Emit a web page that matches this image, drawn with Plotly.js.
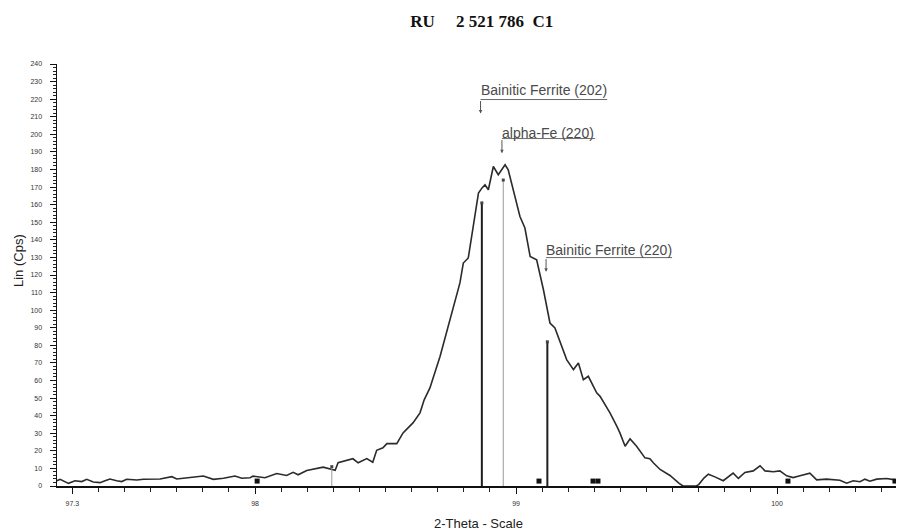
<!DOCTYPE html>
<html>
<head>
<meta charset="utf-8">
<script src="https://cdn.plot.ly/plotly-3.0.1.min.js"></script>
<style>
  html, body { margin: 0; padding: 0; background: #fff; }
  #chart { width: 897px; height: 531px; }
</style>
</head>
<body>
<div id="chart"></div>
<script>
// Diffraction scan, 2-theta (deg) against intensity (Cps)
const twoTheta = [
  97.241, 97.253, 97.285, 97.310, 97.336, 97.355, 97.380, 97.406, 97.425, 97.444,
  97.470, 97.489, 97.508, 97.547, 97.572, 97.636, 97.681, 97.700, 97.725, 97.802,
  97.840, 97.879, 97.923, 97.949, 97.981, 97.992, 98.038, 98.083, 98.121, 98.146,
  98.165, 98.198, 98.261, 98.287, 98.307, 98.318, 98.375, 98.395, 98.428, 98.451,
  98.466, 98.490, 98.505, 98.543, 98.567, 98.605, 98.632, 98.648, 98.670, 98.709,
  98.747, 98.785, 98.798, 98.817, 98.836, 98.856, 98.869, 98.881, 98.894, 98.913,
  98.932, 98.958, 98.970, 98.990, 99.015, 99.034, 99.054, 99.079, 99.105, 99.130,
  99.149, 99.194, 99.220, 99.239, 99.258, 99.277, 99.309, 99.322, 99.360, 99.386,
  99.398, 99.418, 99.437, 99.462, 99.494, 99.513, 99.526, 99.552, 99.590, 99.625,
  99.640, 99.690, 99.700, 99.720, 99.737, 99.762, 99.794, 99.832, 99.852, 99.877,
  99.909, 99.935, 99.954, 99.986, 100.011, 100.037, 100.062, 100.088, 100.126, 100.152,
  100.190, 100.241, 100.267, 100.292, 100.318, 100.337, 100.356, 100.382, 100.420, 100.452
];
const intensity = [
  3.0, 3.8, 1.5, 3.0, 2.5, 3.8, 2.3, 1.9, 3.0, 4.0,
  3.0, 2.5, 3.8, 3.4, 3.8, 4.0, 5.3, 4.0, 4.4, 5.7,
  3.8, 4.4, 5.7, 4.4, 4.7, 5.6, 4.7, 7.1, 6.0, 7.8,
  6.4, 8.8, 10.7, 9.8, 9.0, 13.2, 15.5, 13.2, 15.6, 13.5,
  20.3, 21.7, 24.1, 24.1, 30.2, 35.9, 41.6, 49.0, 55.8, 73.8,
  94.6, 115.5, 126.8, 129.7, 147.6, 166.6, 169.4, 171.3, 168.5, 181.7,
  177.0, 182.7, 179.8, 168.5, 153.3, 146.7, 130.6, 128.7, 111.6, 92.7,
  89.9, 71.9, 66.2, 70.0, 60.5, 62.4, 53.0, 51.0, 41.6, 34.0,
  30.2, 22.6, 26.8, 22.6, 16.0, 15.5, 13.2, 9.4, 6.0, 1.5,
  0.0, 0.0, 0.8, 4.5, 6.7, 5.2, 3.0, 7.3, 4.3, 7.7,
  8.6, 11.5, 8.6, 8.1, 8.6, 5.8, 4.8, 5.8, 7.3, 3.5,
  3.9, 3.3, 1.6, 3.0, 2.4, 3.9, 2.7, 3.9, 4.3, 3.5
];

// Reference pattern lines (position, intensity)
const refPos    = [98.294, 98.869, 98.951, 99.120];
const refHeight = [11, 161, 174, 82];
const refName   = ['', 'Bainitic Ferrite (202)', 'alpha-Fe (220)', 'Bainitic Ferrite (220)'];
// Weak reference lines, shown as small squares on the baseline
const weakPos    = [98.008, 99.088, 99.295, 99.314, 100.042, 100.452];
const weakHeight = [2.8, 2.8, 2.8, 2.8, 2.8, 2.8];

// Axis ticks
const xTickVals = [97.3, 98, 99, 100];
const xTickText = ['97.3', '98', '99', '100'];
const yTickVals = [];
for (let v = 0; v <= 240; v += 10) yTickVals.push(v);

function sticks(indices) {
  const xs = [], ys = [];
  indices.forEach(i => {
    xs.push(refPos[i], refPos[i], null);
    ys.push(0, refHeight[i], null);
  });
  return { xs, ys };
}

const dark = sticks([1, 3]);
const light = sticks([0, 2]);

const traces = [
  {
    x: twoTheta, y: intensity, type: 'scatter', mode: 'lines',
    line: { color: '#2b2b2b', width: 1.6 }, hoverinfo: 'x+y'
  },
  {
    x: light.xs, y: light.ys, type: 'scatter', mode: 'lines',
    line: { color: '#9a9a9a', width: 1 }, hoverinfo: 'skip'
  },
  {
    x: dark.xs, y: dark.ys, type: 'scatter', mode: 'lines',
    line: { color: '#1e1e1e', width: 2 }, hoverinfo: 'skip'
  },
  {
    x: refPos, y: refHeight, type: 'scatter', mode: 'markers',
    marker: { symbol: 'square', size: 3, color: '#444' }, hoverinfo: 'skip'
  },
  {
    x: weakPos, y: weakHeight, type: 'scatter', mode: 'markers',
    marker: { symbol: 'square', size: 5, color: '#111' }, hoverinfo: 'skip'
  }
];

// Phase labels: underlined text with a leader arrow pointing down at the line
const labelGeom = [
  null,
  { textY: 225.5, lineY: 219.8, tipY: 211.8, right: 99.349 },
  { textY: 201.0, lineY: 197.6, tipY: 189.2, right: 99.303 },
  { textY: 134.2, lineY: 129.9, tipY: 121.8, right: 99.598 }
];

const annotations = [];
const shapes = [];
const labelFont = { family: 'Liberation Sans, Arial, sans-serif', size: 14, color: '#4a4a4a' };
for (let i = 1; i < refPos.length; i++) {
  const g = labelGeom[i];
  const x0 = refPos[i] - 0.005;
  annotations.push({
    x: x0, y: g.textY, xref: 'x', yref: 'y', text: refName[i],
    showarrow: false, xanchor: 'left', yanchor: 'middle',
    xshift: -2, font: labelFont
  });
  shapes.push({
    type: 'line', xref: 'x', yref: 'y', x0: x0, x1: g.right, y0: g.lineY, y1: g.lineY,
    line: { color: '#6a6a6a', width: 1 }
  });
  annotations.push({
    x: x0, y: g.tipY, xref: 'x', yref: 'y', axref: 'x', ayref: 'y',
    ax: x0, ay: g.lineY, text: '', showarrow: true,
    arrowhead: 2, arrowsize: 0.7, arrowwidth: 1, arrowcolor: '#555'
  });
}

// Axis titles
annotations.push({
  text: 'Lin (Cps)', xref: 'paper', yref: 'paper',
  x: (18 - 57) / 839, y: 1 - (261 - 64) / 422, textangle: -90,
  showarrow: false, xanchor: 'center', yanchor: 'middle',
  font: { family: 'Liberation Sans, Arial, sans-serif', size: 13, color: '#222' }
});
annotations.push({
  text: '2-Theta - Scale', xref: 'paper', yref: 'paper',
  x: (478 - 57) / 839, y: -(523 - 486) / 422,
  showarrow: false, xanchor: 'center', yanchor: 'middle',
  font: { family: 'Liberation Sans, Arial, sans-serif', size: 13, color: '#222' }
});

const layout = {
  width: 897, height: 531,
  margin: { l: 57, r: 1, t: 64, b: 45 },
  paper_bgcolor: '#ffffff', plot_bgcolor: '#ffffff',
  showlegend: false,
  title: {
    text: '<b>RU\u00a0\u00a0\u00a0\u00a0 2\u00a0521\u00a0786\u00a0\u00a0C1</b>',
    xref: 'container', yref: 'container',
    x: 481.7 / 897, y: 1 - 21.5 / 531, xanchor: 'center', yanchor: 'middle',
    font: { family: 'Liberation Serif, Times New Roman, serif', size: 17, color: '#111' }
  },
  xaxis: {
    range: [97.241, 100.456], showgrid: false, zeroline: false,
    showline: true, linecolor: '#111', linewidth: 1.5,
    tickmode: 'array', tickvals: xTickVals, ticktext: xTickText,
    ticks: 'outside', ticklen: 6, tickwidth: 1, tickcolor: '#111',
    ticklabelstandoff: 4,
    tickfont: { family: 'Liberation Sans, Arial, sans-serif', size: 7, color: '#333333' },
    minor: { dtick: 0.1, tick0: 0, ticks: 'outside', ticklen: 4, tickwidth: 1, tickcolor: '#222', showgrid: false }
  },
  yaxis: {
    range: [0, 240], showgrid: false, zeroline: false,
    showline: true, linecolor: '#111', linewidth: 1.5,
    tickmode: 'array', tickvals: yTickVals,
    ticks: 'outside', ticklen: 6, tickwidth: 1, tickcolor: '#111',
    ticklabelstandoff: 6,
    tickfont: { family: 'Liberation Sans, Arial, sans-serif', size: 7, color: '#333333' },
    minor: { dtick: 2, tick0: 0, ticks: 'outside', ticklen: 3, tickwidth: 1, tickcolor: '#222', showgrid: false }
  },
  annotations: annotations,
  shapes: shapes
};

Plotly.newPlot('chart', traces, layout, { displayModeBar: false, staticPlot: true });
</script>
</body>
</html>
